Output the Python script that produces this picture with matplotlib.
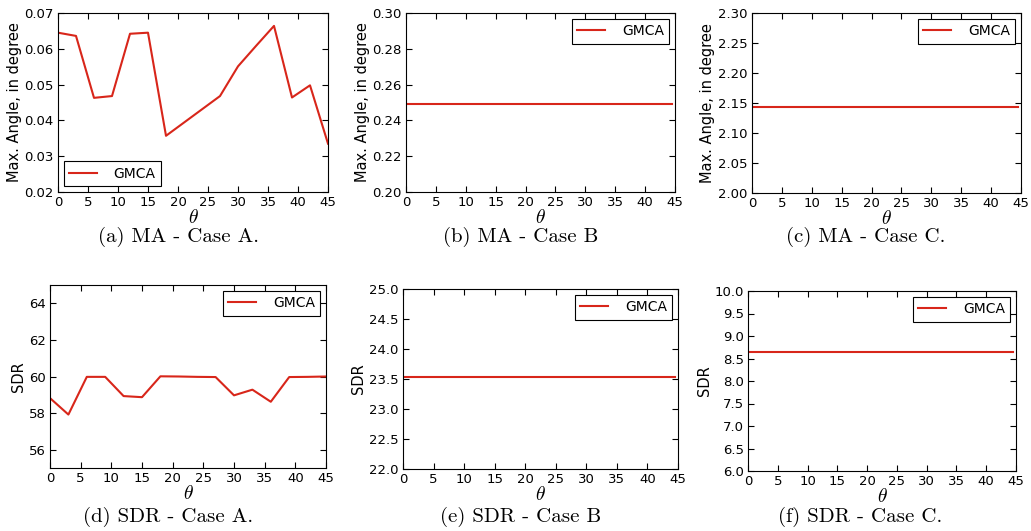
import matplotlib

matplotlib.use("Agg")
import matplotlib.pyplot as plt

# data
THETA = [0, 3, 6, 9, 12, 15, 18, 21, 24, 27, 30, 33, 36, 39, 42, 45]
THETA_FLAT = [0, 44.5]

MA_CASE_A = [0.0645, 0.0636, 0.0463, 0.0468, 0.0642, 0.0645, 0.0357, 0.0394,
             0.0431, 0.0468, 0.0551, 0.0608, 0.0664, 0.0464, 0.0498, 0.0335]
MA_CASE_B = [0.249, 0.249]
MA_CASE_C = [2.143, 2.143]
SDR_CASE_A = [58.82, 57.92, 59.98, 59.98, 58.93, 58.87, 60.01, 60.0,
              59.98, 59.97, 58.97, 59.28, 58.62, 59.97, 59.98, 60.0]
SDR_CASE_B = [23.53, 23.53]
SDR_CASE_C = [8.65, 8.65]

LINE_COLOR = "#d8261a"
W, H = 1031, 531

plt.rcParams["font.family"] = "DejaVu Sans"
plt.rcParams["mathtext.fontset"] = "cm"
plt.rcParams["xtick.direction"] = "in"
plt.rcParams["ytick.direction"] = "in"
plt.rcParams["xtick.top"] = True
plt.rcParams["ytick.right"] = True
plt.rcParams["xtick.major.size"] = 4
plt.rcParams["ytick.major.size"] = 4
plt.rcParams["xtick.major.pad"] = 3
plt.rcParams["ytick.major.pad"] = 3


def axes_at(fig, x0, y0, x1, y1):
    return fig.add_axes([x0 / W, 1 - y1 / H, (x1 - x0) / W, (y1 - y0) / H])


def draw(ax, x, y, ylim, yticks, ylabel, legend_loc, tick_fmt):
    ax.plot(x, y, color=LINE_COLOR, linewidth=1.5, label="GMCA")
    ax.set_xlim(0, 45)
    ax.set_xticks(range(0, 46, 5))
    ax.set_ylim(*ylim)
    ax.set_yticks(yticks)
    ax.set_yticklabels([tick_fmt.format(t) for t in yticks])
    ax.tick_params(labelsize=9.5, width=0.8)
    ax.set_ylabel(ylabel, fontsize=10.5, labelpad=2)
    ax.set_xlabel(r"$\theta$", fontsize=14, labelpad=-1)
    for sp in ax.spines.values():
        sp.set_linewidth(0.8)
    leg = ax.legend(loc=legend_loc, fontsize=10, fancybox=False, framealpha=1,
                    handlelength=2.0, handletextpad=1.2, borderpad=0.4,
                    borderaxespad=0.4)
    leg.get_frame().set_edgecolor("black")
    leg.get_frame().set_linewidth(0.8)


fig = plt.figure(figsize=(W / 100, H / 100), dpi=100)

ax = axes_at(fig, 58, 13, 328, 192)
draw(ax, THETA, MA_CASE_A, (0.02, 0.07), [0.02 + 0.01 * i for i in range(6)],
     "Max. Angle, in degree", "lower left", "{:.2f}")
ax = axes_at(fig, 406, 13, 675, 192)
draw(ax, THETA_FLAT, MA_CASE_B, (0.20, 0.30), [0.20 + 0.02 * i for i in range(6)],
     "Max. Angle, in degree", "upper right", "{:.2f}")
ax = axes_at(fig, 752, 13, 1021, 193)
draw(ax, THETA_FLAT, MA_CASE_C, (2.00, 2.30), [2.00 + 0.05 * i for i in range(7)],
     "Max. Angle, in degree", "upper right", "{:.2f}")
ax = axes_at(fig, 50, 285, 326, 468)
draw(ax, THETA, SDR_CASE_A, (55, 65), [56, 58, 60, 62, 64],
     "SDR", "upper right", "{:.0f}")
ax = axes_at(fig, 403, 289, 678, 469)
draw(ax, THETA_FLAT, SDR_CASE_B, (22, 25), [22 + 0.5 * i for i in range(7)],
     "SDR", "upper right", "{:.1f}")
ax = axes_at(fig, 748, 291, 1016, 471)
draw(ax, THETA_FLAT, SDR_CASE_C, (6, 10), [6 + 0.5 * i for i in range(9)],
     "SDR", "upper right", "{:.1f}")

captions = [
    (178, 237, "(a) MA - Case A."),
    (521, 237, "(b) MA - Case B"),
    (866, 237, "(c) MA - Case C."),
    (168, 517, "(d) SDR - Case A."),
    (521, 517, "(e) SDR - Case B"),
    (860, 517, "(f) SDR - Case C."),
]
for cx, cy, text in captions:
    fig.text(cx / W, 1 - cy / H, text, fontsize=15, family="cmr10",
             ha="center", va="center")

fig.savefig("out.png", dpi=100)
